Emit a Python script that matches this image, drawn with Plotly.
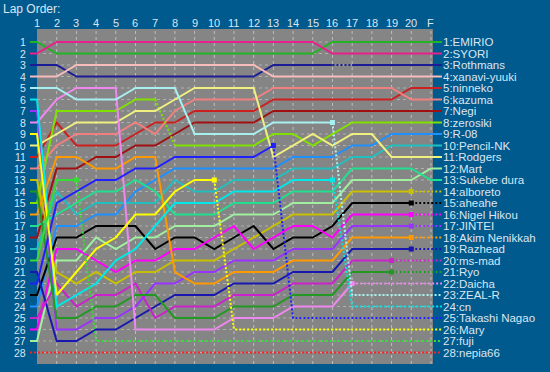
import plotly.graph_objects as go

# ---------------- data ----------------
lap_labels = [str(i) for i in range(1, 21)] + ["F"]

drivers = ["EMIRIO", "SYORI", "Rothmans", "xanavi-yuuki", "ninneko", "kazuma", "Negi",
           "zerosiki", "R-08", "Pencil-NK", "Rodgers", "Mart", "Sukebe dura", "alboreto",
           "aheahe", "Nigel Hikou", "JINTEI", "Akim Nenikkah", "Razhead", "ms-mad", "Ryo",
           "Daicha", "ZEAL-R", "cn", "Takashi Nagao", "Mary", "fuji", "nepia66"]

colors = ["#22b422", "#e8208c", "#1c1c96", "#f8bcbc", "#cc2020", "#f08080", "#a01010",
          "#80e000", "#1e90ff", "#20c0c0", "#f0f080", "#a0f0a0", "#20e090", "#c8c000",
          "#000000", "#ff00ff", "#9933ff", "#ff9900", "#1818b0", "#cc22cc", "#229922",
          "#ee88ee", "#a8f0f0", "#00e8e8", "#2020ff", "#ffff00", "#33dd33", "#ff2020"]

# positions at laps 1..20 and F
pos_emirio   = [1, 2, 2, 2, 2, 2, 2, 2, 2, 2, 2, 2, 2, 2, 2, 1, 1, 1, 1, 1, 1]
pos_syori    = [2, 1, 1, 1, 1, 1, 1, 1, 1, 1, 1, 1, 1, 1, 1, 2, 2, 2, 2, 2, 2]
pos_rothmans = [3, 3, 4, 4, 4, 4, 4, 4, 4, 4, 4, 4, 3, 3, 3, 3, 3, 3, 3, 3, 3]
pos_xanavi   = [4, 4, 3, 3, 3, 3, 3, 3, 3, 3, 3, 3, 4, 4, 4, 4, 4, 4, 4, 4, 4]
pos_ninneko  = [11, 8, 10, 10, 10, 9, 8, 8, 7, 7, 7, 7, 6, 6, 6, 6, 6, 6, 6, 5, 5]
pos_kazuma   = [12, 10, 9, 9, 9, 8, 9, 7, 6, 6, 6, 6, 5, 5, 5, 5, 5, 5, 5, 6, 6]
pos_negi     = [18, 12, 12, 11, 11, 10, 10, 9, 8, 8, 8, 8, 7, 7, 7, 7, 7, 7, 7, 7, 7]
pos_zerosiki = [15, 7, 7, 7, 7, 6, 6, 10, 10, 10, 10, 10, 9, 9, 10, 9, 8, 8, 8, 8, 8]
pos_r08      = [24, 17, 17, 16, 16, 14, 13, 12, 12, 12, 12, 12, 12, 11, 11, 11, 10, 10, 9, 9, 9]
pos_pencil   = [19, 14, 16, 15, 15, 15, 15, 13, 14, 14, 13, 13, 13, 12, 12, 12, 11, 11, 10, 10, 10]
pos_rodgers  = [10, 9, 8, 8, 8, 7, 7, 6, 5, 5, 5, 5, 11, 10, 9, 10, 9, 9, 11, 11, 11]
pos_mart     = [27, 20, 20, 18, 19, 18, 18, 17, 17, 17, 16, 16, 16, 15, 15, 15, 13, 13, 13, 13, 12]
pos_sukebe   = [17, 16, 15, 14, 14, 13, 14, 16, 16, 16, 15, 15, 15, 14, 14, 14, 12, 12, 12, 12, 13]
pos_alboreto = [13, 21, 22, 21, 22, 21, 21, 20, 20, 20, 19, 18, 17, 16, 16, 16, 14, 14, 14, 14, 14]
pos_aheahe   = [23, 18, 18, 17, 17, 17, 19, 18, 18, 19, 18, 17, 19, 18, 18, 17, 15, 15, 15, 15, 15]
pos_nigel    = [26, 19, 19, 20, 21, 20, 20, 19, 19, 18, 17, 19, 18, 17, 17, 18, 16, 16, 16, 16, 16]
pos_jintei   = [7, 26, 26, 25, 25, 24, 22, 22, 21, 21, 20, 20, 20, 19, 19, 19, 17, 17, 17, 17, 17]
pos_akim     = [16, 11, 11, 12, 12, 11, 11, 21, 22, 22, 21, 21, 21, 20, 20, 20, 18, 18, 18, 18, 18]
pos_razhead  = [21, 27, 27, 26, 26, 25, 24, 23, 23, 23, 22, 22, 22, 21, 21, 21, 19, 19, 19, 19, 19]
pos_msmad    = [25, 22, 24, 23, 23, 22, 25, 24, 24, 24, 23, 23, 23, 22, 22, 22, 20, 20, 20, 20, 20]
pos_ryo      = [14, 25, 25, 24, 24, 23, 23, 25, 25, 25, 24, 24, 24, 23, 23, 23, 21, 21, 21, 21, 21]
pos_daicha   = [8, 6, 5, 5, 5, 26, 26, 26, 26, 26, 25, 25, 25, 24, 24, 24, 22, 22, 22, 22, 22]
pos_zealr    = [5, 5, 6, 6, 6, 5, 5, 5, 9, 9, 9, 9, 8, 8, 8, 8, 23, 23, 23, 23, 23]
pos_cn       = [6, 24, 23, 22, 20, 19, 17, 15, 15, 15, 14, 14, 14, 13, 13, 13, 24, 24, 24, 24, 24]
pos_takashi  = [22, 15, 14, 13, 13, 12, 12, 11, 11, 11, 11, 11, 10, 25, 25, 25, 25, 25, 25, 25, 25]
pos_mary     = [9, 23, 21, 19, 18, 16, 16, 14, 13, 13, 26, 26, 26, 26, 26, 26, 26, 26, 26, 26, 26]
pos_fuji     = [20, 13, 13, 27, 27, 27, 27, 27, 27, 27, 27, 27, 27, 27, 27, 27, 27, 27, 27, 27, 27]
pos_nepia    = [28] * 21

positions = [pos_emirio, pos_syori, pos_rothmans, pos_xanavi, pos_ninneko, pos_kazuma, pos_negi,
             pos_zerosiki, pos_r08, pos_pencil, pos_rodgers, pos_mart, pos_sukebe, pos_alboreto,
             pos_aheahe, pos_nigel, pos_jintei, pos_akim, pos_razhead, pos_msmad, pos_ryo,
             pos_daicha, pos_zealr, pos_cn, pos_takashi, pos_mary, pos_fuji, pos_nepia]

# last lap driven (solid); after it the line is dotted. 0 = dotted from start, 21 = finished
last_lap = [21, 21, 21, 21, 21, 21, 21, 21, 21, 21, 21, 21, 21, 20, 20, 20, 20, 20, 20, 19, 19,
            17, 16, 16, 13, 10, 3, 0]
# dotted single segments (pit laps): driver index -> list of start laps
pit_segments = {2: [16], 7: [7]}

# ---------------- figure ----------------
STUB_L, STUB_R = 0.645, 21.56
TXT = "#dbe6f2"
BG = "#005a8e"
PLOT_GRAY = "#858585"
FONT = "Liberation Sans, Arial, sans-serif"
PLOT_W, PLOT_H = 412, 335   # plot area size in px (margins below)

n_laps = len(lap_labels)
fig = go.Figure()

# gray plot panel and dotted grid
shapes = [dict(type="rect", xref="x", yref="paper", x0=1, x1=n_laps + 0.1, y0=0, y1=1,
               fillcolor=PLOT_GRAY, line=dict(width=0), layer="below")]
for lap in range(2, n_laps + 1):
    shapes.append(dict(type="line", xref="x", yref="paper", x0=lap, x1=lap, y0=0, y1=1,
                       line=dict(color="#bdbdbd", width=1, dash="dot"), layer="below"))
for r in range(1, len(drivers) + 1):
    shapes.append(dict(type="line", xref="x", yref="y", x0=1, x1=n_laps + 0.1, y0=r, y1=r,
                       line=dict(color="#b0b0b0", width=1, dash="dot"), layer="below"))

for i, (name, col, p) in enumerate(zip(drivers, colors, positions)):
    xs = [STUB_L] + list(range(1, n_laps + 1)) + [STUB_R]
    ys = [p[0]] + list(p) + [p[-1]]
    styles = []
    for k in range(len(xs) - 1):
        x_start = xs[k]
        dotted = False
        if last_lap[i] == 0:
            dotted = True
        elif x_start >= last_lap[i] and last_lap[i] < n_laps:
            dotted = True
        if x_start in pit_segments.get(i, []):
            dotted = True
        styles.append(dotted)
    for want in (False, True):
        sx, sy = [], []
        prev = False
        for k, st in enumerate(styles):
            if st == want:
                if not prev:
                    if sx:
                        sx.append(None); sy.append(None)
                    sx.append(xs[k]); sy.append(ys[k])
                sx.append(xs[k + 1]); sy.append(ys[k + 1])
                prev = True
            else:
                prev = False
        if sx:
            fig.add_trace(go.Scatter(
                x=sx, y=sy, mode="lines", name=name, showlegend=False, hoverinfo="skip",
                line=dict(color=col, width=2, dash="2px,2px" if want else "solid")))
    if 0 < last_lap[i] < n_laps:
        fig.add_trace(go.Scatter(
            x=[last_lap[i]], y=[p[last_lap[i] - 1]], mode="markers", showlegend=False,
            hoverinfo="skip", marker=dict(color=col, size=5, symbol="square")))


def px_x(px):
    return (px - 30) / PLOT_W


def px_y(px):
    return 1 - (px - 29) / PLOT_H


x_lo, x_hi = STUB_L, STUB_R
annotations = [dict(text="Lap Order:", xref="paper", yref="paper", x=px_x(2), y=px_y(9),
                    xanchor="left", yanchor="middle", showarrow=False, borderpad=0,
                    font=dict(color=TXT, size=12, family=FONT))]
for lap, lab in enumerate(lap_labels, start=1):
    annotations.append(dict(text=lab, x=(lap - x_lo) / (x_hi - x_lo), y=px_y(23),
                            xref="paper", yref="paper", showarrow=False, borderpad=0,
                            xanchor="center", yanchor="middle",
                            font=dict(color=TXT, size=11, family=FONT)))
for r in range(1, len(drivers) + 1):
    annotations.append(dict(text=str(r), x=px_x(27), y=r, xref="paper", yref="y",
                            showarrow=False, xanchor="right", yanchor="middle", borderpad=0,
                            font=dict(color=TXT, size=10.5, family=FONT)))
for r, name in enumerate(drivers, start=1):
    annotations.append(dict(text=f"{r}:{name}", x=px_x(442), y=r, xref="paper", yref="y",
                            showarrow=False, xanchor="left", yanchor="middle", borderpad=0,
                            font=dict(color=TXT, size=11.5, family=FONT)))

fig.update_layout(
    width=550, height=372,
    margin=dict(l=30, r=108, t=29, b=8),
    paper_bgcolor=BG, plot_bgcolor=BG,
    shapes=shapes, annotations=annotations,
    xaxis=dict(range=[x_lo, x_hi], visible=False, fixedrange=True),
    yaxis=dict(range=[29.0, -0.13], visible=False, fixedrange=True),
    showlegend=False,
)

fig.write_html("out.html", config={"displayModeBar": False},
               post_script="document.body.style.margin='0';document.body.style.background='%s';" % BG)
